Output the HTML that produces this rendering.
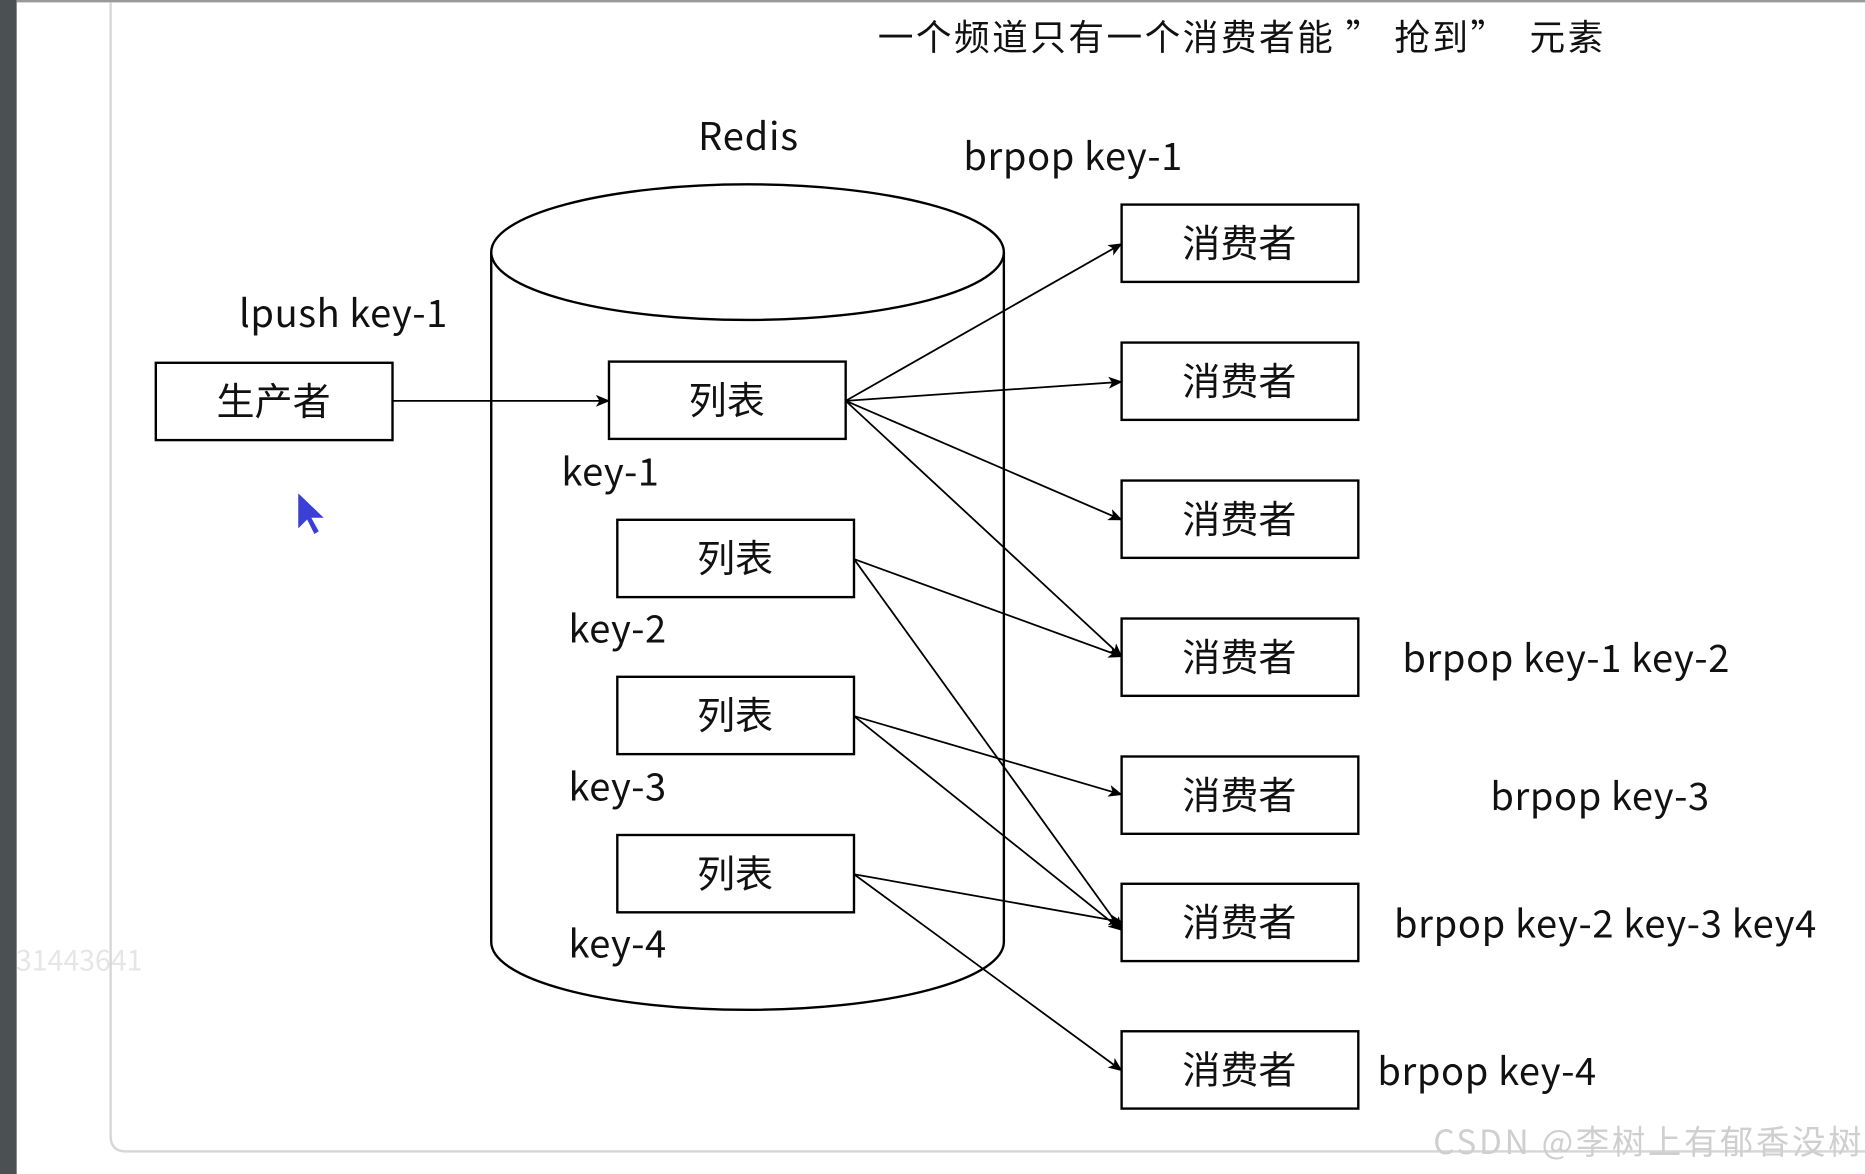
<!DOCTYPE html>
<html><head><meta charset="utf-8"><style>html,body{margin:0;padding:0;background:#fff;overflow:hidden}svg{display:block}text{font-family:"Noto Sans CJK SC","Liberation Sans",sans-serif;fill:#111}</style></head><body>
<svg width="1865" height="1174" viewBox="0 0 1568 987" preserveAspectRatio="none" xmlns="http://www.w3.org/2000/svg">
<defs><marker id="a" markerWidth="12" markerHeight="10" refX="11" refY="5" orient="auto" markerUnits="userSpaceOnUse"><path d="M0,0 L12,5 L0,10 L3,5 Z" fill="#000"/></marker></defs>
<rect x="0" y="0" width="1568" height="987" fill="#fff"/>
<text x="0" y="816" font-size="24" style="fill:#e6e6e6">331443641</text>
<rect x="0" y="0" width="14" height="987" fill="#4b5053"/>
<rect x="14" y="0" width="1554" height="2" fill="#999"/>
<path d="M93,2 V955 Q93,968 106,968 H1568" fill="none" stroke="#d6d6d6" stroke-width="2"/>
<text x="738" y="42" font-size="30" textLength="610" lengthAdjust="spacing" xml:space="preserve">一个频道只有一个消费者能 ” 抢到”  元素</text>
<text x="587" y="126" font-size="32" textLength="84">Redis</text>
<text x="810" y="143" font-size="32" textLength="184">brpop key-1</text>
<g fill="none" stroke="#000" stroke-width="2">
<path d="M413,212 V792 A215.5,57 0 0 0 844,792 V212"/>
<ellipse cx="628.5" cy="212" rx="215.5" ry="57"/>
</g>
<text x="201" y="275" font-size="32" textLength="175">lpush key-1</text>
<g fill="#fff" stroke="#000" stroke-width="2">
<rect x="131" y="305" width="199" height="65"/>
<rect x="512" y="304" width="199" height="65"/>
<rect x="519" y="437" width="199" height="65"/>
<rect x="519" y="569" width="199" height="65"/>
<rect x="519" y="702" width="199" height="65"/>
<rect x="943" y="172" width="199" height="65"/>
<rect x="943" y="288" width="199" height="65"/>
<rect x="943" y="404" width="199" height="65"/>
<rect x="943" y="520" width="199" height="65"/>
<rect x="943" y="636" width="199" height="65"/>
<rect x="943" y="743" width="199" height="65"/>
<rect x="943" y="867" width="199" height="65"/>
</g>
<g font-size="32" text-anchor="middle">
<text x="230" y="349">生产者</text>
<text x="611" y="348">列表</text>
<text x="618" y="481">列表</text>
<text x="618" y="613">列表</text>
<text x="618" y="746">列表</text>
<text x="1042" y="216">消费者</text>
<text x="1042" y="332">消费者</text>
<text x="1042" y="448">消费者</text>
<text x="1042" y="564">消费者</text>
<text x="1042" y="680">消费者</text>
<text x="1042" y="787">消费者</text>
<text x="1042" y="911">消费者</text>
</g>
<g font-size="32">
<text x="472" y="408" textLength="82">key-1</text>
<text x="478" y="540" textLength="82">key-2</text>
<text x="478" y="673" textLength="82">key-3</text>
<text x="478" y="805" textLength="82">key-4</text>
<text x="1179" y="565" textLength="275">brpop key-1 key-2</text>
<text x="1253" y="681" textLength="184">brpop key-3</text>
<text x="1172" y="788" textLength="355">brpop key-2 key-3 key4</text>
<text x="1158" y="912" textLength="184">brpop key-4</text>
</g>
<g stroke="#000" stroke-width="1.5" marker-end="url(#a)">
<line x1="330" y1="337" x2="512" y2="337"/>
<line x1="711" y1="337" x2="943" y2="205"/>
<line x1="711" y1="337" x2="943" y2="321"/>
<line x1="711" y1="337" x2="943" y2="437"/>
<line x1="711" y1="337" x2="943" y2="552"/>
<line x1="718" y1="470" x2="943" y2="552"/>
<line x1="718" y1="470" x2="943" y2="782"/>
<line x1="718" y1="602" x2="943" y2="668"/>
<line x1="718" y1="602" x2="943" y2="782"/>
<line x1="718" y1="735" x2="943" y2="775"/>
<line x1="718" y1="735" x2="943" y2="900"/>
</g>
<path d="M250,413 L250,446 L258,438 L264,450 L269,447 L263,436 L274,436 Z" fill="#3b3fd6" stroke="#fff" stroke-width="1.5"/>
<text x="1205" y="970" font-size="28" textLength="360" style="fill:#cfcfcf">CSDN @李树上有郁香没树</text>
</svg>
</body></html>
